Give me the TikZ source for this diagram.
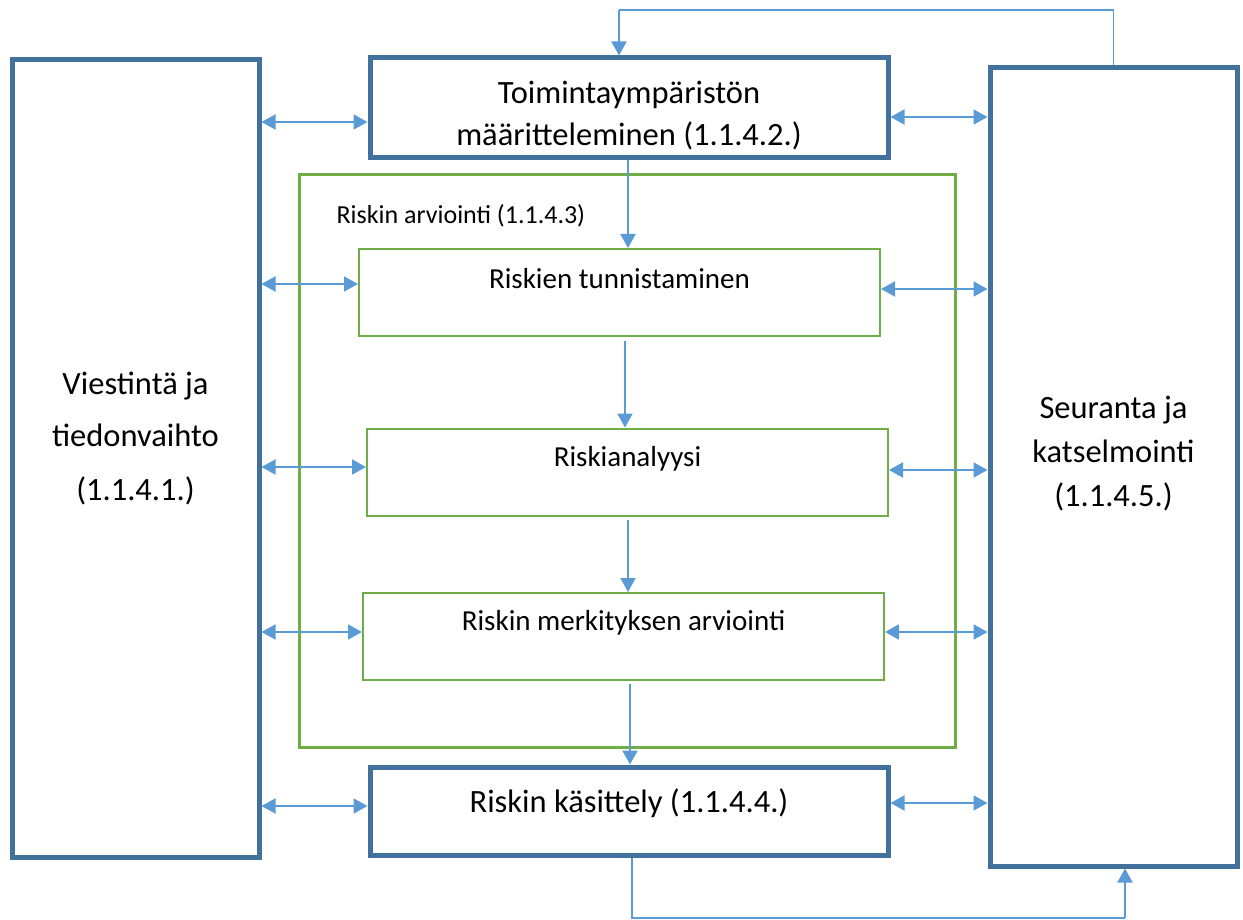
\documentclass[tikz,border=0pt]{standalone}
\usepackage{fontspec}
\setmainfont{Carlito}
\usetikzlibrary{arrows.meta}
\definecolor{frameblue}{HTML}{41719C}
\definecolor{stagegreen}{HTML}{70AD47}
\definecolor{linkblue}{HTML}{5B9BD5}

\begin{document}
\begin{tikzpicture}[x=1pt,y=-1pt,
		outerbox/.style={draw=frameblue,line width=5pt,inner sep=0pt},
		stagebox/.style={draw=stagegreen,line width=2pt,inner sep=0pt,minimum width=521pt,minimum height=87pt},
		bigtext/.style={align=center,font=\fontsize{32.5}{42}\selectfont},
		stagetext/.style={font=\fontsize{29}{33}\selectfont},
		twoway/.style={draw=linkblue,line width=2pt,{Triangle[length=14pt,width=15pt]}-{Triangle[length=14pt,width=15pt]}},
		oneway/.style={draw=linkblue,line width=2pt,-{Triangle[length=14pt,width=15pt]}},
		feedback/.style={draw=linkblue,line width=1.3pt}]
	\useasboundingbox (0,0) rectangle (1243,920);
	% frame boxes
	\node[outerbox,minimum width=247pt,minimum height=797pt] (viest) at (135.5,458.5) {};
	\node[outerbox,minimum width=518pt,minimum height=100pt] (toim) at (629,108) {};
	\node[outerbox,minimum width=247pt,minimum height=798pt] (seur) at (1113.5,467) {};
	\node[outerbox,minimum width=518pt,minimum height=88pt] (kas) at (629,811) {};
	\node[draw=stagegreen,line width=3pt,inner sep=0pt,minimum width=656pt,minimum height=572pt] (arv) at (627,461) {};
	% stages
	\node[stagebox] (tunn) at (619.5,292.5) {};
	\node[stagebox] (anal) at (627.5,472) {};
	\node[stagebox] (merk) at (623.5,636.5) {};
	% texts
	\node[bigtext,font=\fontsize{32.5}{52}\selectfont] (viesttxt) at ([yshift=20pt]viest.center) {Viestintä ja\\tiedonvaihto\\[2pt](1.1.4.1.)};
	\node[bigtext] (toimtxt) at ([yshift=-8pt]toim.center) {Toimintaympäristön\\määritteleminen (1.1.4.2.)};
	\node[bigtext,font=\fontsize{32.5}{44}\selectfont] (seurtxt) at ([yshift=13.5pt]seur.center) {Seuranta ja\\katselmointi\\(1.1.4.5.)};
	\node[bigtext] (kastxt) at ([yshift=8pt]kas.center) {Riskin käsittely (1.1.4.4.)};
	\node[font=\fontsize{26}{30}\selectfont,anchor=west] (arvtxt) at (333,216) {Riskin arviointi (1.1.4.3)};
	\node[stagetext] (tunntxt) at ([yshift=-31pt]tunn.north) {Riskien tunnistaminen};
	\node[stagetext] (analtxt) at ([yshift=-31pt]anal.north) {Riskianalyysi};
	\node[stagetext] (merktxt) at ([yshift=-31pt]merk.north) {Riskin merkityksen arviointi};
	% links to the left
	\draw[twoway] ([yshift=-14pt]toim.west -| viest.east) -- ([yshift=-14pt]toim.west);
	\draw[twoway] ([yshift=8.5pt]tunn.west -| viest.east) -- ([yshift=8.5pt]tunn.west);
	\draw[twoway] ([yshift=5pt]anal.west -| viest.east) -- ([yshift=5pt]anal.west);
	\draw[twoway] ([yshift=4.5pt]merk.west -| viest.east) -- ([yshift=4.5pt]merk.west);
	\draw[twoway] ([yshift=5pt]kas.west -| viest.east) -- ([yshift=5pt]kas.west);
	% links to the right
	\draw[twoway] ([yshift=-9pt]toim.east) -- ([yshift=-9pt]toim.east -| seur.west);
	\draw[twoway] ([yshift=3.5pt]tunn.east) -- ([yshift=3.5pt]tunn.east -| seur.west);
	\draw[twoway] ([yshift=2pt]anal.east) -- ([yshift=2pt]anal.east -| seur.west);
	\draw[twoway] ([yshift=4.5pt]merk.east) -- ([yshift=4.5pt]merk.east -| seur.west);
	\draw[twoway] ([yshift=8pt]kas.east) -- ([yshift=8pt]kas.east -| seur.west);
	% flow down
	\draw[oneway] (toim.south -| 628,0) -- (tunn.north -| 628,0);
	\draw[oneway] ([yshift=-4pt]tunn.south -| 625,0) -- (anal.north -| 625,0);
	\draw[oneway] ([yshift=-3pt]anal.south -| 628,0) -- (merk.north -| 628,0);
	\draw[oneway] ([yshift=-3pt]merk.south -| 630,0) -- (kas.north -| 630,0);
	% feedback loops
	\coordinate (topturn) at (619,10);
	\coordinate (botturn) at (1125,918);
	\draw[feedback] (seur.north) |- (topturn);
	\draw[oneway] (topturn) -- (topturn |- toim.north);
	\draw[feedback] (kas.south -| 632,0) |- (botturn);
	\draw[oneway] (botturn) -- (botturn |- seur.south);
\end{tikzpicture}
\end{document}
